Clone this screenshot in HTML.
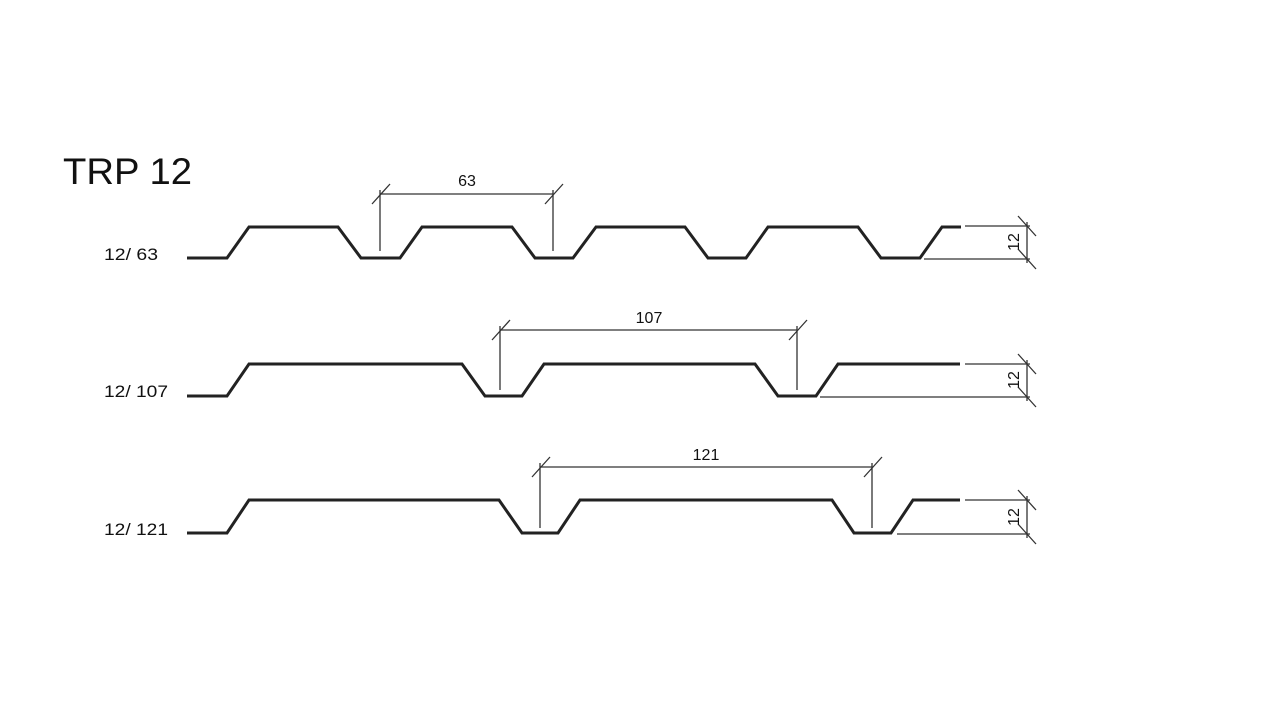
<!DOCTYPE html>
<html><head><meta charset="utf-8"><style>
html,body{margin:0;padding:0;background:#fff;width:1280px;height:720px;overflow:hidden}
svg{display:block}
text{font-family:"Liberation Sans",Arial,sans-serif;fill:#111}
</style></head><body>
<svg width="1280" height="720" viewBox="0 0 1280 720" xmlns="http://www.w3.org/2000/svg">
<text x="63" y="184" font-size="37" textLength="129" lengthAdjust="spacingAndGlyphs">TRP 12</text>
<text x="104" y="260" font-size="17" textLength="54" lengthAdjust="spacingAndGlyphs">12/ 63</text>
<text x="104" y="397" font-size="17" textLength="64" lengthAdjust="spacingAndGlyphs">12/ 107</text>
<text x="104" y="535" font-size="17" textLength="64" lengthAdjust="spacingAndGlyphs">12/ 121</text>

<g fill="none" stroke="#222" stroke-width="3" stroke-linejoin="miter">
<polyline points="187,258 227,258 249,227 338,227 361,258 400,258 422,227 512,227 535,258 573,258 596,227 685,227 708,258 746,258 768,227 858,227 881,258 920,258 942,227 961,227"/>
<polyline points="187,396 227,396 249,364 462,364 485,396 522,396 544,364 755,364 778,396 816,396 838,364 960,364"/>
<polyline points="187,533 227,533 249,500 499,500 522,533 558,533 580,500 832,500 854,533 891,533 913,500 960,500"/>
</g>

<g fill="none" stroke="#333" stroke-width="1.3">
<line x1="380" y1="194" x2="553" y2="194"/>
<line x1="380" y1="190" x2="380" y2="251"/>
<line x1="553" y1="190" x2="553" y2="251"/>
<line x1="372" y1="204" x2="390" y2="184"/>
<line x1="545" y1="204" x2="563" y2="184"/>
<line x1="500" y1="330" x2="797" y2="330"/>
<line x1="500" y1="326" x2="500" y2="390"/>
<line x1="797" y1="326" x2="797" y2="390"/>
<line x1="492" y1="340" x2="510" y2="320"/>
<line x1="789" y1="340" x2="807" y2="320"/>
<line x1="540" y1="467" x2="872" y2="467"/>
<line x1="540" y1="463" x2="540" y2="528"/>
<line x1="872" y1="463" x2="872" y2="528"/>
<line x1="532" y1="477" x2="550" y2="457"/>
<line x1="864" y1="477" x2="882" y2="457"/>

<line x1="965" y1="226" x2="1030" y2="226"/>
<line x1="924" y1="259" x2="1030" y2="259"/>
<line x1="1027" y1="222" x2="1027" y2="263"/>
<line x1="1018" y1="216" x2="1036" y2="236"/>
<line x1="1018" y1="249" x2="1036" y2="269"/>
<line x1="965" y1="364" x2="1030" y2="364"/>
<line x1="820" y1="397" x2="1030" y2="397"/>
<line x1="1027" y1="360" x2="1027" y2="401"/>
<line x1="1018" y1="354" x2="1036" y2="374"/>
<line x1="1018" y1="387" x2="1036" y2="407"/>
<line x1="965" y1="500" x2="1030" y2="500"/>
<line x1="897" y1="534" x2="1030" y2="534"/>
<line x1="1027" y1="496" x2="1027" y2="538"/>
<line x1="1018" y1="490" x2="1036" y2="510"/>
<line x1="1018" y1="524" x2="1036" y2="544"/>
</g>

<text x="467" y="186" font-size="16" text-anchor="middle">63</text>
<text x="649" y="323" font-size="16" text-anchor="middle">107</text>
<text x="706" y="460" font-size="16" text-anchor="middle">121</text>
<text transform="translate(1019,242) rotate(-90)" font-size="16" text-anchor="middle">12</text>
<text transform="translate(1019,380) rotate(-90)" font-size="16" text-anchor="middle">12</text>
<text transform="translate(1019,517) rotate(-90)" font-size="16" text-anchor="middle">12</text>
</svg>
</body></html>
